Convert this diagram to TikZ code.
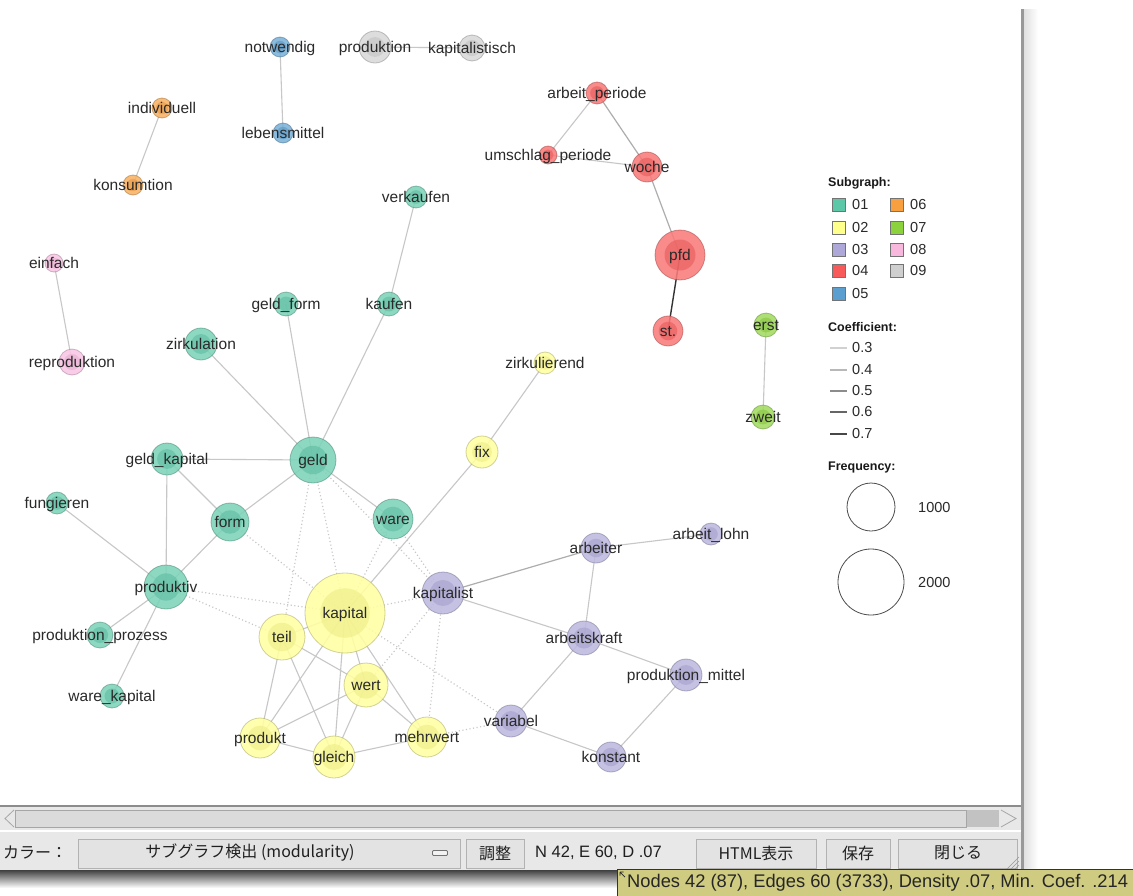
\documentclass[tikz,border=0pt]{standalone}
\usepackage{fontspec}
\setmainfont{Liberation Sans}
\newfontfamily\jp{Noto Sans CJK JP}
\usetikzlibrary{calc}
\pgfdeclarelayer{bg}
\pgfsetlayers{bg,main}
\definecolor{c01}{HTML}{5CC8A8}
\definecolor{c02}{HTML}{FFFF8C}
\definecolor{c03}{HTML}{ADA8D8}
\definecolor{c04}{HTML}{F85A5A}
\definecolor{c05}{HTML}{5A9FD0}
\definecolor{c06}{HTML}{F8A040}
\definecolor{c07}{HTML}{8CD23C}
\definecolor{c08}{HTML}{F8B8DE}
\definecolor{c09}{HTML}{CFCFCF}
\definecolor{txt}{HTML}{2A2A2A}
\definecolor{tipbg}{HTML}{CFCB80}
\tikzset{
  gnode/.style={circle, inner sep=0pt, line width=0.8pt, draw opacity=0.45, fill opacity=0.88},
  lbl/.style={inner sep=0pt, text height=8pt, text depth=0pt, text=txt, yshift=-1pt, font=\fontsize{15.5}{15.5}\selectfont},
  edg/.style={draw=black!22, line width=1.1pt},
  edgm/.style={draw=black!32, line width=1.2pt},
  edgd/.style={draw=black!80, line width=1.4pt},
  dotd/.style={draw=black!22, line width=1.2pt, dash pattern=on 1.1pt off 2.5pt},
  sq/.style={rectangle, minimum size=13pt, inner sep=0pt, draw=black!55, line width=0.6pt},
  lgt/.style={anchor=west, inner sep=0pt, text=txt, font=\fontsize{14.5}{14.5}\selectfont},
  lgh/.style={anchor=west, inner sep=0pt, text=black!90, font=\bfseries\fontsize{12.5}{12.5}\selectfont},
  btn/.style={rectangle, draw=black!30, fill=black!11, line width=0.8pt, inner sep=0pt},
  ui/.style={inner sep=0pt, text=black!88, font=\jp\fontsize{16}{16}\selectfont},
}
\newcommand\gn[5]{%
  \node[gnode, draw=#4!60!black, fill=#4!80!white, minimum size={2*#3},
    path picture={\fill[#4!92!black, fill opacity=0.5] (path picture bounding box.center) circle[radius={0.62*#3}];}] (#1) at (#2) {};
  \node[lbl] (#1-t) at (#1.center) {#5};}
\begin{document}
\begin{tikzpicture}[x=1pt,y=-1pt]
\useasboundingbox (0,0) rectangle (1133,895);

% ---- nodes ----
\gn{notw}{280,47}{10}{c05}{notwendig}
\gn{lebens}{283,133}{10}{c05}{lebensmittel}
\gn{produktion}{375,47}{16}{c09}{produktion}
\gn{kapitalistisch}{472,48}{13}{c09}{kapitalistisch}
\gn{indiv}{162,108}{10}{c06}{individuell}
\gn{konsum}{133,185}{10}{c06}{konsumtion}
\gn{arbper}{597,93}{11}{c04}{arbeit\_periode}
\gn{umper}{548,155}{9}{c04}{umschlag\_periode}
\gn{woche}{647,167}{15}{c04}{woche}
\gn{pfd}{680,255}{25}{c04}{pfd}
\gn{st}{668,331}{15}{c04}{st.}
\gn{erst}{766,325}{12}{c07}{erst}
\gn{zweit}{763,417}{12}{c07}{zweit}
\gn{verkaufen}{416,197}{11}{c01}{verkaufen}
\gn{kaufen}{389,304}{12}{c01}{kaufen}
\gn{geldform}{286,304}{12}{c01}{geld\_form}
\gn{zirk}{201,344}{16}{c01}{zirkulation}
\gn{einfach}{54,263}{9}{c08}{einfach}
\gn{repro}{72,362}{13}{c08}{reproduktion}
\gn{zirkulierend}{545,363}{11}{c02}{zirkulierend}
\gn{geld}{313,460}{23}{c01}{geld}
\gn{geldkap}{167,459}{16}{c01}{geld\_kapital}
\gn{fix}{482,452}{16}{c02}{fix}
\gn{fungieren}{57,503}{11}{c01}{fungieren}
\gn{form}{230,522}{19}{c01}{form}
\gn{ware}{393,519}{20}{c01}{ware}
\gn{arbeiter}{596,548}{15}{c03}{arbeiter}
\gn{arbeitlohn}{711,534}{11}{c03}{arbeit\_lohn}
\gn{produktiv}{166,587}{22}{c01}{produktiv}
\gn{kapitalist}{443,593}{21}{c03}{kapitalist}
\gn{kapital}{345,613}{40}{c02}{kapital}
\gn{teil}{282,637}{23}{c02}{teil}
\gn{arbeitskraft}{584,638}{17}{c03}{arbeitskraft}
\gn{prodprozess}{100,635}{13}{c01}{produktion\_prozess}
\gn{prodmittel}{686,675}{16}{c03}{produktion\_mittel}
\gn{wert}{366,685}{22}{c02}{wert}
\gn{warekap}{112,696}{12}{c01}{ware\_kapital}
\gn{variabel}{511,721}{16}{c03}{variabel}
\gn{produkt}{260,738}{20}{c02}{produkt}
\gn{gleich}{334,757}{21}{c02}{gleich}
\gn{mehrwert}{427,737}{20}{c02}{mehrwert}
\gn{konstant}{611,757}{15}{c03}{konstant}

% ---- edges ----
\begin{pgfonlayer}{bg}
\fill[white] (0,0) rectangle (1133,895);
\foreach \a/\b in {notw/lebens, produktion/kapitalistisch, indiv/konsum, einfach/repro,
  arbper/umper, umper/woche, erst/zweit,
  verkaufen/kaufen, kaufen/geld, geldform/geld, zirk/geld, geldkap/geld, geld/form, geld/ware,
  geldkap/form, geldkap/produktiv, form/produktiv, fungieren/produktiv, produktiv/prodprozess, produktiv/warekap,
  zirkulierend/fix, fix/kapital,
  arbeiter/arbeitlohn, arbeiter/arbeitskraft, kapitalist/arbeitskraft, arbeitskraft/variabel,
  arbeitskraft/prodmittel, variabel/konstant, konstant/prodmittel,
  kapital/teil, kapital/wert, kapital/produkt, kapital/gleich, kapital/mehrwert,
  teil/produkt, teil/gleich, teil/wert, wert/produkt, wert/gleich, wert/mehrwert,
  produkt/gleich, gleich/mehrwert}
  \draw[edg] (\a.center) -- (\b.center);
\foreach \a/\b in {arbper/woche, woche/pfd, kapitalist/arbeiter}
  \draw[edgm] (\a.center) -- (\b.center);
\draw[edgd] (pfd.center) -- (st.center);
\foreach \a/\b in {geld/kapital, geld/teil, geld/kapitalist, ware/kapital, ware/kapitalist, form/kapital,
  produktiv/kapital, produktiv/teil, kapital/kapitalist, kapitalist/wert, kapitalist/mehrwert,
  kapital/variabel, mehrwert/variabel}
  \draw[dotd] (\a.center) -- (\b.center);
\end{pgfonlayer}

% ---- legend ----
\node[lgh] (lsub) at (828,183) {Subgraph:};
\node[sq, fill=c01] (s01) at (839,205) {}; \node[lgt] (t01) at (852,205) {01};
\node[sq, fill=c02] (s02) at (839,228) {}; \node[lgt] (t02) at (852,228) {02};
\node[sq, fill=c03] (s03) at (839,250) {}; \node[lgt] (t03) at (852,250) {03};
\node[sq, fill=c04] (s04) at (839,271) {}; \node[lgt] (t04) at (852,271) {04};
\node[sq, fill=c05] (s05) at (839,294) {}; \node[lgt] (t05) at (852,294) {05};
\node[sq, fill=c06] (s06) at (897,205) {}; \node[lgt] (t06) at (910,205) {06};
\node[sq, fill=c07] (s07) at (897,228) {}; \node[lgt] (t07) at (910,228) {07};
\node[sq, fill=c08] (s08) at (897,250) {}; \node[lgt] (t08) at (910,250) {08};
\node[sq, fill=c09] (s09) at (897,271) {}; \node[lgt] (t09) at (910,271) {09};

\node[lgh] (lcoef) at (828,327) {Coefficient:};
\draw[black!18, line width=1.1pt] (830,348) -- (847,348); \node[lgt] (k3) at (852,348) {0.3};
\draw[black!28, line width=1.2pt] (830,370) -- (847,370); \node[lgt] (k4) at (852,370) {0.4};
\draw[black!45, line width=1.3pt] (830,391) -- (847,391); \node[lgt] (k5) at (852,391) {0.5};
\draw[black!60, line width=1.5pt] (830,412) -- (847,412); \node[lgt] (k6) at (852,412) {0.6};
\draw[black!72, line width=1.7pt] (830,434) -- (847,434); \node[lgt] (k7) at (852,434) {0.7};

\node[lgh] (lfreq) at (828,467) {Frequency:};
\node[circle, draw=black!70, line width=0.8pt, minimum size=48pt, inner sep=0pt] (f1) at (871,507) {};
\node[lgt] (f1t) at (918,507) {1000};
\node[circle, draw=black!70, line width=0.8pt, minimum size=66pt, inner sep=0pt] (f2) at (871,582) {};
\node[lgt] (f2t) at (918,582) {2000};

% ---- window frame ----
\fill[black!40] (1021,9) rectangle (1024,880);
\shade[left color=black!12, right color=white] (1024,9) rectangle (1038,880);

% scrollbar
\fill[black!9] (0,805) rectangle (1021,870);
\draw[black!45, line width=1.4pt] (0,806) -- (1021,806);
\draw[black!35, fill=black!14, line width=0.8pt] (15,810) rectangle (966,827);
\fill[black!24] (967,810) rectangle (999,827);
\draw[black!35, line width=0.8pt] (14,810) -- (5,818.5) -- (14,827);
\draw[black!35, line width=0.8pt] (1001,810) -- (1016,818.5) -- (1001,827);
\draw[white, line width=2pt] (0,831) -- (1021,831);

% toolbar
\node[ui, anchor=west] (lcolor) at (3,853) {カラー：};
\node[btn, minimum width=382pt, minimum height=29pt] (dd) at (269,853.5) {};
\node[ui] (ddt) at (250,853) {サブグラフ検出 (modularity)};
\node[rectangle, draw=black!55, fill=black!5, rounded corners=1pt, minimum width=15pt, minimum height=5pt, inner sep=0pt, line width=0.8pt] (ddi) at (440,853) {};
\node[btn, minimum width=58pt, minimum height=29pt] (b1) at (495,853.5) {};
\node[ui] (b1t) at (495,853) {調整};
\node[inner sep=0pt, anchor=west, text=black!88, font=\fontsize{16.5}{16.5}\selectfont] (nstat) at (535,853) {N 42, E 60, D .07};
\node[btn, minimum width=120pt, minimum height=29pt] (b2) at (756,853.5) {};
\node[ui] (b2t) at (756,853) {HTML表示};
\node[btn, minimum width=64pt, minimum height=29pt] (b3) at (858,853.5) {};
\node[ui] (b3t) at (858,853) {保存};
\node[btn, minimum width=119pt, minimum height=29pt] (b4) at (958,853.5) {};
\node[ui] (b4t) at (958,853) {閉じる};
\foreach \d in {4,8,12}
  \draw[black!40, line width=0.6pt] (1019-\d,869) -- (1019,869-\d);

% shadow below window
\shade[top color=black!75, bottom color=white] (0,870) rectangle (1021,888);

% tooltip
\node[rectangle, draw=black!80, fill=tipbg, line width=0.8pt, minimum width=520pt, minimum height=27pt, anchor=north west, inner sep=0pt] (tip) at (617,869) {};
\node[inner sep=0pt, anchor=west, text=black!85, font=\fontsize{18.3}{18.3}\selectfont] (tipt) at (627,883) {Nodes 42 (87), Edges 60 (3733), Density .07, Min. Coef. .214};
\draw[black!85, line width=0.7pt] (620,872) -- (625,877) (620,872) -- (620,875.5) (620,872) -- (623.5,872);
\end{tikzpicture}
\end{document}
